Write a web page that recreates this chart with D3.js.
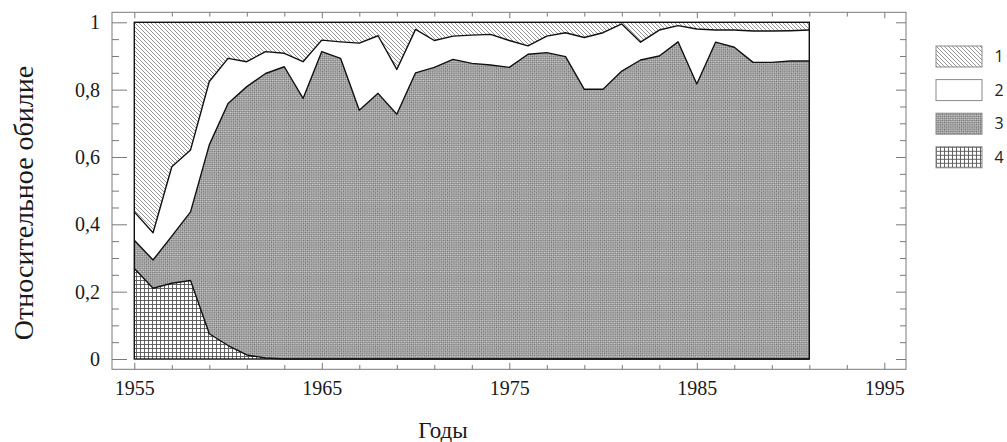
<!DOCTYPE html>
<html>
<head>
<meta charset="utf-8">
<script src="https://cdn.jsdelivr.net/npm/d3@7"></script>
<style>
  html, body { margin: 0; padding: 0; background: #fff; }
  svg { display: block; }
</style>
</head>
<body>
<svg id="chart" width="1007" height="442"></svg>
<script>
// Years of observation
const years = [1955,1956,1957,1958,1959,1960,1961,1962,1963,1964,1965,1966,1967,1968,1969,1970,1971,1972,1973,1974,1975,1976,1977,1978,1979,1980,1981,1982,1983,1984,1985,1986,1987,1988,1989,1990,1991];

// Relative abundance of each group (shares sum to 1 per year)
const group1 = [0.563,0.625,0.429,0.379,0.176,0.107,0.117,0.087,0.092,0.117,0.053,0.058,0.062,0.040,0.140,0.021,0.054,0.041,0.038,0.036,0.054,0.070,0.041,0.031,0.045,0.031,0.005,0.059,0.023,0.010,0.020,0.023,0.023,0.026,0.026,0.025,0.023];
const group2 = [0.084,0.081,0.206,0.184,0.188,0.134,0.074,0.065,0.040,0.109,0.034,0.049,0.199,0.171,0.133,0.129,0.080,0.069,0.084,0.091,0.080,0.025,0.049,0.071,0.154,0.168,0.140,0.053,0.077,0.048,0.163,0.036,0.051,0.093,0.093,0.090,0.092];
const group3 = [0.084,0.084,0.140,0.204,0.561,0.719,0.797,0.845,0.868,0.774,0.913,0.893,0.739,0.789,0.727,0.850,0.866,0.890,0.878,0.873,0.866,0.905,0.910,0.898,0.801,0.801,0.855,0.888,0.900,0.942,0.817,0.941,0.926,0.881,0.881,0.885,0.885];
const group4 = [0.269,0.210,0.225,0.233,0.075,0.040,0.012,0.003,0,0,0,0,0,0,0,0,0,0,0,0,0,0,0,0,0,0,0,0,0,0,0,0,0,0,0,0,0];

// Axis ticks
const xMajorTicks = [1955,1965,1975,1985,1995];
const xMinorTicks = [1957,1959,1961,1963,1967,1969,1971,1973,1977,1979,1981,1983,1987,1989,1991,1993];
const yMajorTicks = [0,0.2,0.4,0.6,0.8,1];
const yMajorLabels = ["0","0,2","0,4","0,6","0,8","1"];
const yMinorTicks = [0.05,0.1,0.15,0.25,0.3,0.35,0.45,0.5,0.55,0.65,0.7,0.75,0.85,0.9,0.95];

const legendKeys = ["1","2","3","4"];
const xTitle = "Годы";
const yTitle = "Относительное обилие";

const svg = d3.select("#chart");
const serif = "'Liberation Serif', 'Times New Roman', serif";
const frameColor = "#7a7a7a";

// Fill patterns
const defs = svg.append("defs");
const p1 = defs.append("pattern").attr("id", "pat1").attr("patternUnits", "userSpaceOnUse")
  .attr("width", 4).attr("height", 4);
p1.append("rect").attr("width", 4).attr("height", 4).attr("fill", "#fff");
p1.append("path").attr("d", "M-1,-1L5,5M-1,3L1,5M3,-1L5,1")
  .attr("stroke", "#8a8a8a").attr("stroke-width", 0.9);

const p2 = defs.append("pattern").attr("id", "pat2").attr("patternUnits", "userSpaceOnUse")
  .attr("width", 4).attr("height", 4);
p2.append("rect").attr("width", 4).attr("height", 4).attr("fill", "#fff");

const p3 = defs.append("pattern").attr("id", "pat3").attr("patternUnits", "userSpaceOnUse")
  .attr("width", 3).attr("height", 3).attr("patternTransform", "rotate(45)");
p3.append("rect").attr("width", 3).attr("height", 3).attr("fill", "#d6d6d6");
p3.append("rect").attr("width", 1.5).attr("height", 1.5).attr("fill", "#6a6a6a");
p3.append("rect").attr("x", 1.5).attr("y", 1.5).attr("width", 1.5).attr("height", 1.5).attr("fill", "#6a6a6a");

const p4 = defs.append("pattern").attr("id", "pat4").attr("patternUnits", "userSpaceOnUse")
  .attr("width", 4).attr("height", 4);
p4.append("rect").attr("width", 4).attr("height", 4).attr("fill", "#fff");
p4.append("path").attr("d", "M0.5,0V4M0,0.5H4").attr("stroke", "#555").attr("stroke-width", 0.9);

const patternFor = {"1": "url(#pat1)", "2": "url(#pat2)", "3": "url(#pat3)", "4": "url(#pat4)"};

// Scales
const x = d3.scaleLinear().domain([1955, 1995]).range([134.3, 884.3]);
const y = d3.scaleLinear().domain([0, 1]).range([359, 22.3]);
const frame = {left: 112, right: 906, top: 12.3, bottom: 369.3};

// Stacked data, group 4 at the bottom
const rows = years.map((yr, i) => ({year: yr, "1": group1[i], "2": group2[i], "3": group3[i], "4": group4[i]}));
const stack = d3.stack().keys(["4", "3", "2", "1"]).order(d3.stackOrderNone).offset(d3.stackOffsetNone);
const layers = stack(rows);

const area = d3.area().x(d => x(d.data.year)).y0(d => y(d[0])).y1(d => y(d[1]));
const topLine = d3.line().x(d => x(d.data.year)).y(d => y(d[1]));

const plot = svg.append("g");
plot.selectAll("path.layer").data(layers).join("path")
  .attr("class", "layer")
  .attr("d", area)
  .attr("fill", d => patternFor[d.key]);

// Boundaries between groups
plot.selectAll("path.edge").data(layers.slice(0, 3)).join("path")
  .attr("class", "edge")
  .attr("d", topLine)
  .attr("fill", "none").attr("stroke", "#111").attr("stroke-width", 1.4)
  .attr("stroke-linejoin", "round");

// Outline of the whole stacked area
const first = years[0], last = years[years.length - 1];
plot.append("rect")
  .attr("x", x(first)).attr("y", y(1))
  .attr("width", x(last) - x(first)).attr("height", y(0) - y(1))
  .attr("fill", "none").attr("stroke", "#111").attr("stroke-width", 1.4);

// Frame and axes
svg.append("rect")
  .attr("x", frame.left).attr("y", frame.top)
  .attr("width", frame.right - frame.left).attr("height", frame.bottom - frame.top)
  .attr("fill", "none").attr("stroke", frameColor).attr("stroke-width", 1);

function styleAxis(g) {
  g.select(".domain").remove();
  g.selectAll(".tick line").attr("stroke", frameColor);
  g.selectAll(".tick text").attr("fill", "#1a1a1a").attr("font-family", serif).attr("font-size", 20);
}

svg.append("g").attr("transform", `translate(0,${frame.bottom})`)
  .call(d3.axisBottom(x).tickValues(xMajorTicks).tickSize(-6.5).tickPadding(11.5).tickFormat(d3.format("d")))
  .call(styleAxis);
svg.append("g").attr("transform", `translate(0,${frame.bottom})`)
  .call(d3.axisBottom(x).tickValues(xMinorTicks).tickSize(-4.3).tickFormat(""))
  .call(styleAxis);
svg.append("g").attr("transform", `translate(0,${frame.top})`)
  .call(d3.axisTop(x).tickValues(xMajorTicks).tickSize(-6).tickFormat(""))
  .call(styleAxis);
svg.append("g").attr("transform", `translate(0,${frame.top})`)
  .call(d3.axisTop(x).tickValues(xMinorTicks).tickSize(-4.3).tickFormat(""))
  .call(styleAxis);

svg.append("g").attr("transform", `translate(${frame.left},0)`)
  .call(d3.axisLeft(y).tickValues(yMajorTicks).tickSize(-15).tickPadding(12)
    .tickFormat((d, i) => yMajorLabels[i]))
  .call(styleAxis);
svg.append("g").attr("transform", `translate(${frame.left},0)`)
  .call(d3.axisLeft(y).tickValues(yMinorTicks).tickSize(-7).tickFormat(""))
  .call(styleAxis);
svg.append("g").attr("transform", `translate(${frame.right},0)`)
  .call(d3.axisRight(y).tickValues(yMajorTicks).tickSize(-10).tickFormat(""))
  .call(styleAxis);
svg.append("g").attr("transform", `translate(${frame.right},0)`)
  .call(d3.axisRight(y).tickValues(yMinorTicks).tickSize(-6).tickFormat(""))
  .call(styleAxis);

// Axis titles
svg.append("text")
  .attr("x", 443).attr("y", 438)
  .attr("text-anchor", "middle")
  .attr("font-family", serif).attr("font-size", 23).attr("fill", "#1a1a1a")
  .text(xTitle);
svg.append("text")
  .attr("transform", "translate(33,203) rotate(-90)")
  .attr("text-anchor", "middle")
  .attr("font-family", serif).attr("font-size", 28).attr("fill", "#1a1a1a")
  .text(yTitle);

// Legend
const legend = svg.append("g").attr("transform", "translate(936,46)");
const item = legend.selectAll("g").data(legendKeys).join("g")
  .attr("transform", (d, i) => `translate(0,${i * 33.6})`);
item.append("rect")
  .attr("width", 46).attr("height", 21)
  .attr("fill", d => patternFor[d])
  .attr("stroke", "#8a8a8a").attr("stroke-width", 1);
item.append("text")
  .attr("x", 63).attr("y", 10.5).attr("dy", "0.36em")
  .attr("text-anchor", "middle")
  .attr("font-family", "'Open Sans', 'Liberation Sans', sans-serif").attr("font-size", 16)
  .attr("fill", "#222")
  .text(d => d);
</script>
</body>
</html>
